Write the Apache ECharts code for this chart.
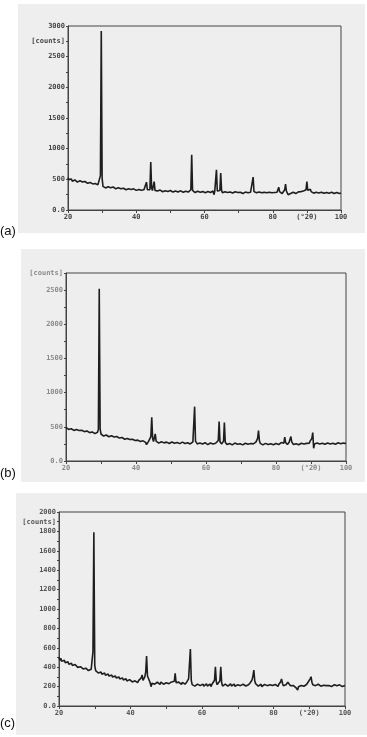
<!DOCTYPE html>
<html><head><meta charset="utf-8">
<script src="https://cdn.jsdelivr.net/npm/echarts@6/dist/echarts.min.js"></script>
<style>html,body{margin:0;padding:0;background:#fff}#c{width:367px;height:737px}</style>
</head><body><div id="c"></div>
<script>
// 2θ grid of the scans (degrees)
const thetaStart = 20, thetaStep = 0.25, thetaMin = 20, thetaMax = 100;
const xTickValues = [20, 40, 60, 80, 90, 100];
const xTickTexts  = ['20', '40', '60', '80', '(°2θ)', '100'];
const panelNames = ['(a)', '(b)', '(c)'];

// counts, panel (a)
const countsA = [
530,495,520,480,505,470,498,462,490,475,488,455,482,460,478,450,472,458,470,445,
465,440,462,435,455,430,450,420,445,425,440,415,432,405,428,410,425,440,560,2920,
520,385,372,395,360,385,368,380,355,378,362,372,350,375,358,368,345,370,352,362,
340,362,345,358,335,355,340,350,330,352,338,345,328,348,335,342,325,345,330,338,
320,342,325,336,318,338,322,335,315,330,318,332,454,330,318,325,330,781,360,318,
330,464,320,305,328,310,322,300,325,308,318,298,322,305,315,295,320,302,316,298,
318,300,312,292,315,298,310,290,318,295,308,288,312,296,305,290,310,292,306,288,
308,292,304,312,330,902,320,290,305,285,300,292,306,284,298,290,304,280,300,288,
302,282,296,288,300,275,298,285,292,270,310,250,300,330,656,310,285,300,318,601,
320,280,295,285,298,278,292,286,300,275,294,282,296,276,290,284,298,272,292,286,
296,274,290,282,295,270,288,280,292,276,286,282,294,285,290,300,315,536,300,278,
292,280,288,272,294,278,286,282,290,270,288,276,292,280,284,272,290,278,286,280,
290,272,286,278,300,290,310,372,300,278,292,268,295,300,330,421,310,280,250,265,
230,270,285,262,290,276,284,268,292,272,296,280,288,300,270,292,310,278,300,330,
464,320,290,305,339,300,282,296,275,290,280,288,272,292,278,286,270,290,276,284,
272,292,278,286,268,290,274,284,270,288,276,282,268,290,272,286,276,282,270,285,
278];

// counts, panel (b)
const countsB = [
490,470,485,462,478,455,472,460,468,448,465,452,460,440,458,445,452,436,450,440,
445,430,442,425,438,420,435,415,428,418,425,405,420,400,415,402,420,460,2520,470,
395,375,392,365,385,370,380,360,378,355,372,360,368,350,365,352,360,342,358,345,
352,335,348,330,345,325,340,318,335,322,330,312,326,315,322,305,318,308,315,300,
312,295,305,290,300,285,298,282,295,278,290,272,240,220,280,300,330,360,640,330,
285,300,397,290,270,285,262,280,268,282,260,278,265,280,258,276,262,280,256,274,
262,278,255,274,260,276,252,272,258,275,254,270,260,276,250,272,256,270,252,268,
258,272,250,268,262,280,300,795,290,262,250,268,245,262,254,266,248,264,252,268,
250,262,240,258,246,264,236,256,250,262,242,260,248,270,300,578,280,255,250,262,
290,563,275,250,240,258,232,255,244,260,236,254,246,262,238,256,245,258,234,252,
244,258,236,255,242,260,234,252,246,258,238,256,244,262,250,268,260,275,290,330,
446,300,258,240,255,236,252,244,258,232,250,240,256,235,252,242,256,238,250,244,
256,236,252,240,258,262,270,280,290,260,348,270,250,240,262,275,290,357,280,252,
240,256,236,252,244,258,238,254,246,260,240,256,248,262,244,258,252,266,260,290,
310,330,416,186,250,270,245,262,240,258,250,264,242,260,248,262,244,258,250,264,
246,262,250,266,244,260,252,264,246,262,250,266,248,260,252,264,246,262,254,260,
256];

// counts, panel (c)
const countsC = [
505,470,492,460,480,450,472,445,462,438,455,430,448,425,440,418,435,412,428,408,
418,398,412,392,405,388,400,382,396,378,390,372,385,365,382,368,378,395,560,1790,
420,365,345,362,340,355,332,350,328,345,322,340,318,336,312,330,308,325,302,320,
298,316,292,310,288,305,282,300,278,296,272,290,268,285,262,280,258,276,255,272,
252,268,248,265,245,260,242,258,240,262,250,270,290,320,265,280,300,350,515,310,
290,320,240,199,235,220,242,225,238,220,245,228,240,222,246,230,238,225,244,228,
240,226,245,230,238,224,248,232,240,255,337,240,228,225,246,230,238,222,244,228,
240,225,236,248,260,280,300,587,265,220,210,228,205,222,212,226,206,224,210,228,
212,226,204,222,214,228,206,220,212,226,200,222,216,240,265,405,250,220,210,230,
260,405,240,205,222,208,226,212,220,204,224,214,228,206,220,212,226,202,222,214,
220,206,226,210,218,200,224,212,220,206,225,210,218,230,240,250,270,310,371,260,
230,212,220,204,218,210,224,200,216,208,222,205,218,210,226,202,220,208,224,212,
218,204,222,210,216,202,225,240,250,278,235,210,222,206,220,230,245,261,232,208,
215,200,212,195,208,190,180,165,198,205,190,212,200,215,204,218,208,222,230,250,
260,280,302,245,220,206,222,210,218,200,224,212,216,204,220,208,214,200,218,210,
215,198,212,204,218,200,214,206,220,202,216,208,222,204,218,206,214,200,216,210,
212];

// y-axis settings per panel
const yMaxes = [3000, 2750, 2000];
const yIntervals = [250, 250, 100];
const yLabelSteps = [500, 500, 200];
const yUnitAt = [2750, 2750, 1900];

const chart = echarts.init(document.getElementById('c'), null, {renderer: 'canvas'});

const grids = [
  {left: 68, right: 26, top: 26, height: 184},
  {left: 66, right: 21, top: 273, height: 188},
  {left: 59, right: 22, top: 512, height: 194}
];
const papers = [
  {x: 18, y: 4, w: 347, h: 229},
  {x: 21, y: 249, w: 344, h: 233},
  {x: 16, y: 493, w: 351, h: 242}
];
const labelY = [237, 479, 729];
const textColors = ['#444', '#8a8a8a', '#555'];
const allCounts = [countsA, countsB, countsC];

function toPairs(arr) { return arr.map((v, i) => [thetaStart + i * thetaStep, v]); }

const font = 'DejaVu Sans Mono';
const option = {
  animation: false,
  backgroundColor: '#fff',
  graphic: [
    ...papers.map(p => ({type: 'rect', z: -10, silent: true, shape: {x: p.x, y: p.y, width: p.w, height: p.h}, style: {fill: '#eeeeee'}})),
    ...panelNames.map((t, i) => ({type: 'text', left: 0, top: labelY[i] - 12, style: {text: t, font: '13px "Liberation Sans", Arial, sans-serif', fill: '#111'}}))
  ],
  grid: grids.map(g => Object.assign({show: true, borderColor: '#444', borderWidth: 1, backgroundColor: 'transparent'}, g)),
  xAxis: grids.map((g, i) => ({
    type: 'value', gridIndex: i, min: thetaMin, max: thetaMax, interval: 10,
    axisLine: {show: true, lineStyle: {color: '#444', width: 1}},
    axisTick: {show: true, length: 3, lineStyle: {color: '#444'}},
    splitLine: {show: false},
    axisLabel: {
      margin: 4, fontFamily: font, fontSize: 7, fontWeight: 'bold', color: textColors[i],
      formatter: v => { const k = xTickValues.indexOf(v); return k >= 0 ? xTickTexts[k] : ''; }
    }
  })),
  yAxis: grids.map((g, i) => ({
    type: 'value', gridIndex: i, min: 0, max: yMaxes[i], interval: yIntervals[i],
    axisLine: {show: true, lineStyle: {color: '#444', width: 1}},
    axisTick: {show: true, length: 2, lineStyle: {color: '#444'}},
    splitLine: {show: false},
    axisLabel: {
      margin: 3, fontFamily: font, fontSize: 7, fontWeight: 'bold', color: textColors[i],
      formatter: v => {
        if (v === 0) return '0.0';
        if (v === yUnitAt[i]) return '[counts]';
        return v % yLabelSteps[i] === 0 ? String(v) : '';
      }
    }
  })),
  series: allCounts.map((arr, i) => ({
    type: 'line', xAxisIndex: i, yAxisIndex: i, data: toPairs(arr),
    showSymbol: false, symbol: 'none', sampling: null,
    lineStyle: {color: '#1e1e1e', width: 1.6}
  }))
};
chart.setOption(option);
</script>
</body></html>
